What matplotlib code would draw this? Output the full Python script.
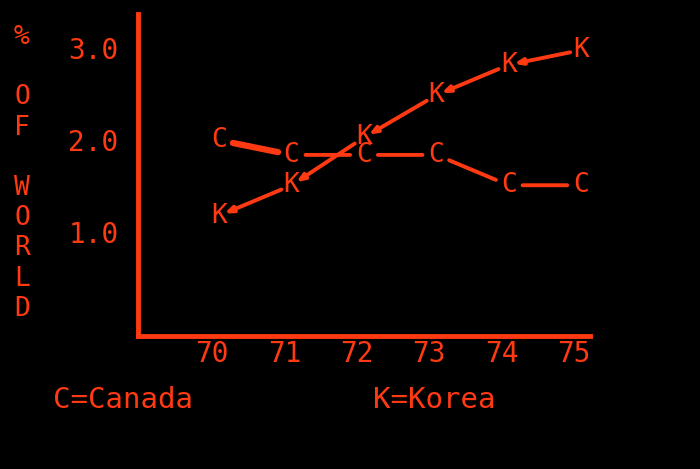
import matplotlib
matplotlib.use("Agg")
import matplotlib.pyplot as plt
import matplotlib.transforms as mtransforms

years = [70, 71, 72, 73, 74, 75]
canada = [2.0, 1.84, 1.84, 1.84, 1.51, 1.51]
korea = [1.18, 1.51, 2.03, 2.49, 2.82, 2.98]
ytick_vals = [1.0, 2.0, 3.0]
ytick_labels = ["1.0", "2.0", "3.0"]
xtick_labels = ["70", "71", "72", "73", "74", "75"]

RED = "#ff3a12"
FONT = "DejaVu Sans Mono"
FS = 20

fig = plt.figure(figsize=(7, 4.69), dpi=100, facecolor="black")
ax = fig.add_axes([0.197, 0.2836, 0.646, 0.686], facecolor="black")
ax.set_xlim(68.875, 75.125)
ax.set_ylim(-0.13, 3.37)

for s in ["top", "right"]:
    ax.spines[s].set_visible(False)
for s in ["left", "bottom"]:
    ax.spines[s].set_color(RED)
    ax.spines[s].set_linewidth(3.5)

ax.set_xticks(years)
ax.set_xticklabels(xtick_labels)
ax.set_yticks(ytick_vals)
ax.set_yticklabels(ytick_labels)
ax.tick_params(length=0, colors=RED, labelsize=FS)
ax.tick_params(axis="x", pad=3)
ax.tick_params(axis="y", pad=14)
for lab in ax.get_xticklabels() + ax.get_yticklabels():
    lab.set_fontfamily(FONT)
shift = mtransforms.ScaledTranslation(-7 / 100, 0, fig.dpi_scale_trans)
for lab in ax.get_xticklabels():
    lab.set_transform(lab.get_transform() + shift)

# Canada line
for i in range(len(years) - 1):
    lw = 4.5 if i == 0 else 2.8
    ax.annotate("", xy=(years[i + 1], canada[i + 1]), xytext=(years[i], canada[i]),
                arrowprops=dict(arrowstyle="-", color=RED, lw=lw, shrinkA=10, shrinkB=10))
# Korea line (drawn right to left with small arrowheads)
for i in range(len(years) - 1, 0, -1):
    ax.annotate("", xy=(years[i - 1], korea[i - 1]), xytext=(years[i], korea[i]),
                arrowprops=dict(arrowstyle="-|>,head_length=0.45,head_width=0.18", color=RED,
                                lw=2.8, shrinkA=8, shrinkB=4))

for x, y in zip(years, canada):
    ax.text(x, y, "C", color=RED, fontsize=FS - 1, family=FONT, ha="center", va="center")
for x, y in zip(years, korea):
    ax.text(x, y, "K", color=RED, fontsize=FS - 1, family=FONT, ha="center", va="center")

fig.text(22 / 700, 1 - 24 / 469, "%\n\nO\nF\n\nW\nO\nR\nL\nD", color=RED, fontsize=19,
         family=FONT, ha="center", va="top", linespacing=1.21)
fig.text(53 / 700, 1 - 400 / 469, "C=Canada", color=RED, fontsize=21, family=FONT,
         ha="left", va="center")
fig.text(373 / 700, 1 - 400 / 469, "K=Korea", color=RED, fontsize=21, family=FONT,
         ha="left", va="center")

fig.savefig("out.png", dpi=100, facecolor="black")
